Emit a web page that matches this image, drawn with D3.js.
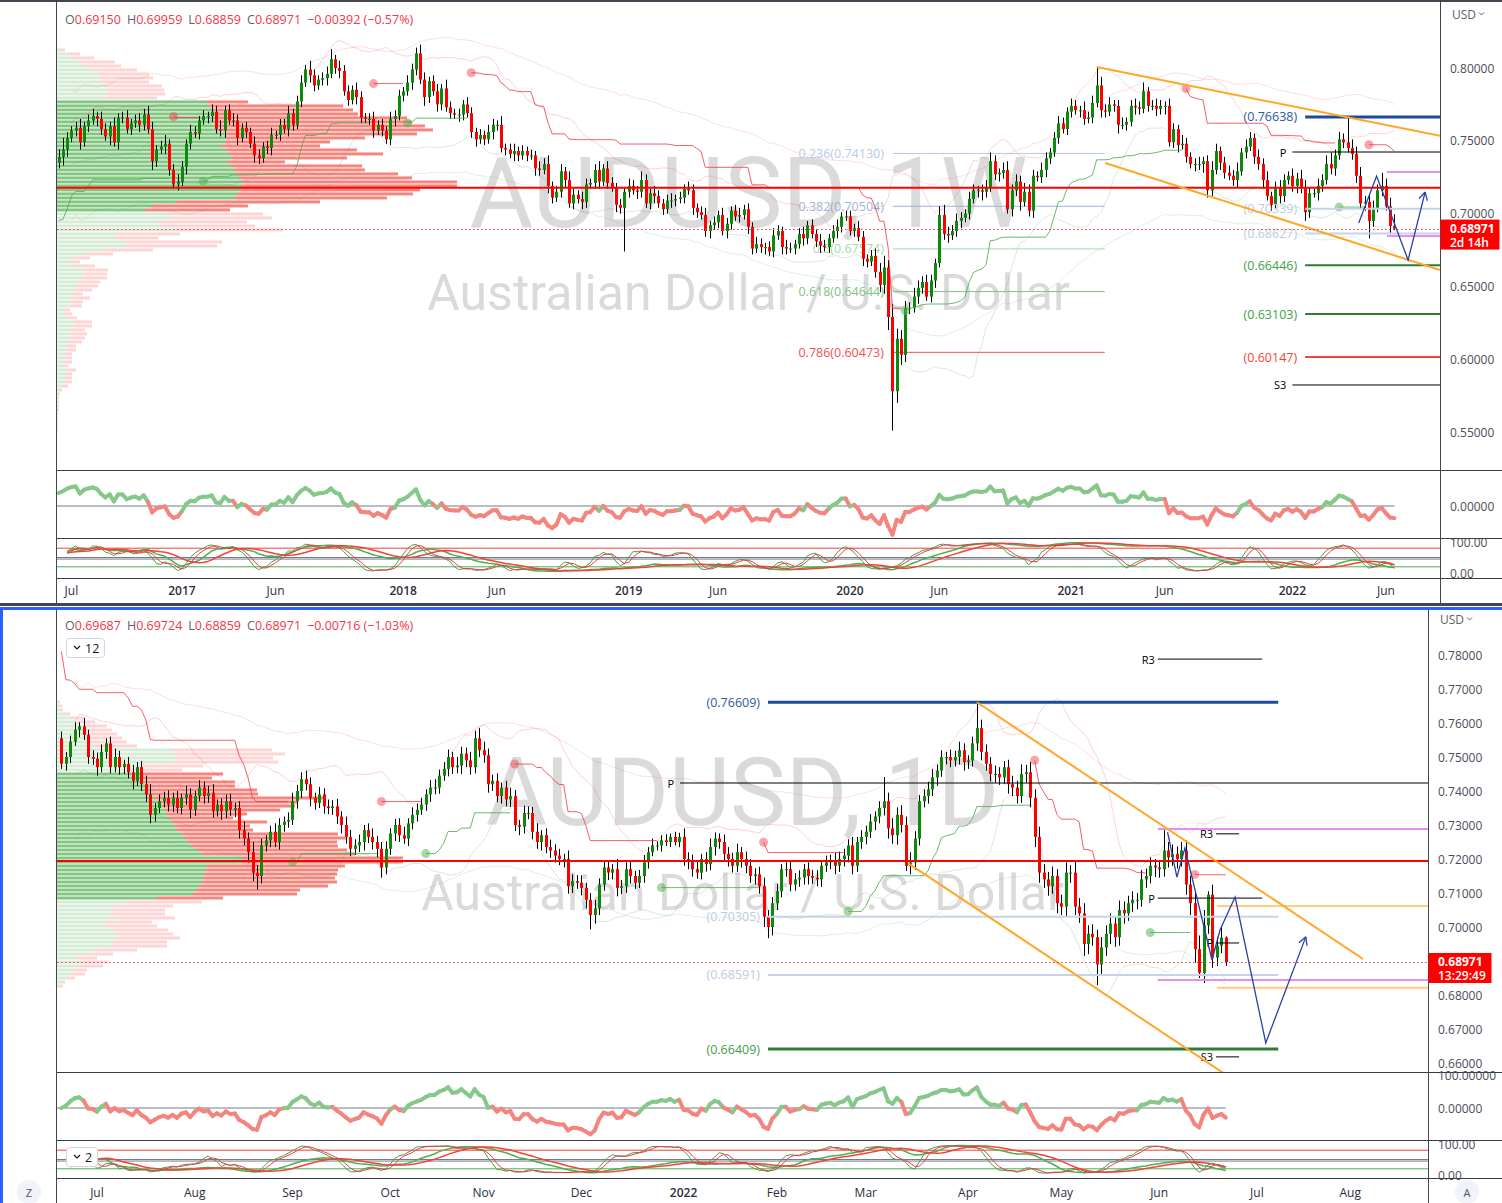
<!DOCTYPE html>
<html><head><meta charset="utf-8"><title>AUDUSD</title>
<script src="https://cdn.jsdelivr.net/npm/d3@7/dist/d3.min.js"></script>
<style>html,body{margin:0;padding:0;background:#fff;overflow:hidden}svg{display:block}</style>
</head><body><svg id="c" width="1502" height="1203"></svg>
<script>
// ================= DATA =================
const weeklyStart = "2016-06-13";
const weeklyFirstOpen = 7350;           // price x 1e-4
const weeklyClose = [
7390,7440,7520,7570,7590,7490,7600,7640,7670,7650,7580,7530,7600,7490,7660,7660,7580,7620,7640,7610,7680,7580,7360,7440,7460,7480,7300,7200,7220,
7320,7480,7560,7550,7640,7670,7670,7700,7580,7570,7710,7640,7640,7520,7590,7560,7480,7400,7380,7460,7450,7540,7540,7610,7580,7690,7610,7770,7900,7990,
7950,7880,7920,7930,7960,8060,8000,7980,7840,7780,7850,7800,7660,7650,7650,7570,7610,7570,7510,7650,7670,7810,
7840,7900,7990,8100,7920,7800,7910,7840,7750,7860,7730,7690,7680,7680,7750,7690,7560,7510,7540,7510,7560,7610,7610,7450,7440,7410,7430,7400,7430,7400,
7400,7310,7300,7340,7190,7110,7150,7290,7230,7070,7130,7100,7080,7200,7210,7300,7220,7310,7210,7180,7060,7040,7150,
7190,7160,7150,7230,7070,7140,7120,7070,7030,7090,7090,7100,7110,7170,7160,7040,7010,6990,6880,6920,6940,6990,6880,6930,7020,6980,6990,7030,6910,6760,
6790,6770,6770,6740,6850,6880,6770,6760,6760,6790,6860,6830,6920,6860,6810,6780,6770,6830,6880,6910,6980,6980,
6880,6900,6840,6690,6670,6710,6600,6510,6630,6290,5780,6140,6030,6350,6350,6430,6490,6530,6430,6540,6660,6990,6860,6850,6880,6950,6970,7000,7100,7160,
7160,7150,7180,7360,7270,7280,7300,7030,7160,7220,7080,7150,7020,7260,7250,7300,7380,7420,7520,7620,7580,7700,
7740,7710,7710,7650,7660,7760,7880,7710,7700,7750,7740,7610,7610,7630,7740,7730,7720,7840,7740,7740,7720,7740,7740,7490,7580,7470,7480,7390,7340,7340,
7340,7360,7160,7300,7430,7350,7280,7260,7230,7290,7420,7460,7520,7390,7340,7230,7120,7060,7180,7120,7230,7260,
7190,7240,7180,7010,7140,7140,7190,7230,7340,7310,7400,7510,7490,7450,7410,7260,7070,7080,6950,7040,7160,7190,7050,6915,6897];
const weeklyWickUp = [   // x 0.001 above body
5,8,4,3,4,6,3,4,5,3,5,4,3,6,3,4,5,3,4,5,4,6,5,3,4,6,3,4,5,
4,3,5,4,3,4,3,5,4,6,3,4,5,4,3,4,3,5,4,3,4,5,3,4,4,5,3,4,5,3,6,4,3,4,5,7,3,5,4,4,3,5,4,3,4,5,3,4,3,5,4,4,
3,5,4,4,6,5,3,4,5,3,6,4,3,4,3,5,4,3,4,3,5,4,3,6,3,4,5,3,4,3,4,3,5,4,6,3,4,5,3,6,4,3,5,4,3,4,6,3,5,4,3,4,3,
5,4,3,6,4,3,5,4,3,4,5,3,4,3,5,4,3,4,5,3,4,3,5,4,3,4,5,3,4,3,5,4,3,4,5,4,3,5,4,3,4,5,3,4,3,5,4,3,4,5,3,4,
4,3,5,4,3,4,5,6,8,5,9,7,6,5,4,6,5,4,5,4,3,6,7,5,4,5,4,3,5,4,3,4,5,6,4,3,5,6,4,5,4,6,5,4,3,5,4,3,4,5,4,3,
5,4,3,6,4,5,13,6,4,5,3,4,5,3,4,5,4,6,3,4,5,4,3,5,4,3,6,4,3,4,5,3,4,6,5,3,4,5,4,6,3,5,4,3,5,4,6,3,4,5,4,3,
5,4,6,5,4,3,5,4,6,8,4,5,4,17,6,5,6,4,5,5,4,9,5,6,8.1];
const weeklyWickDn = [   // x 0.001 below body
4,6,5,3,4,5,3,4,3,5,4,3,6,3,5,4,3,4,3,5,4,3,6,4,3,5,4,3,4,
3,5,4,3,4,3,5,4,3,4,5,3,4,5,3,4,3,5,4,3,4,5,3,4,3,5,4,3,4,3,5,4,3,4,5,3,4,5,3,4,3,5,4,3,4,5,3,4,3,4,5,3,
4,3,5,4,3,6,4,3,5,4,3,4,3,5,4,3,4,5,3,4,3,5,4,3,4,3,5,4,3,4,3,5,4,3,5,4,3,4,5,3,4,3,5,4,3,4,5,3,4,3,5,4,30,
4,3,5,4,3,4,5,3,4,3,5,4,3,4,3,5,4,3,4,5,3,4,3,5,4,3,4,3,5,4,3,4,5,3,4,3,5,4,3,4,3,5,4,3,4,5,3,4,3,5,4,3,
3,4,3,5,4,3,4,5,6,9,27,8,7,5,4,3,5,4,3,4,5,3,4,5,3,4,5,3,4,3,5,6,4,3,4,5,4,3,5,4,6,3,4,5,3,4,5,4,3,4,3,4,
4,3,5,4,3,4,3,5,4,3,4,6,3,4,3,5,4,3,4,3,5,4,6,3,4,5,3,4,3,5,4,6,5,4,3,5,4,3,4,5,3,4,3,5,4,6,3,4,3,5,4,3,
4,5,4,6,4,3,5,4,3,4,5,3,4,3,4,5,4,5,12,4,3,4,3,5,1.1];

const dailyStart = "2021-06-21";
const dailyFirstOpen = 7555;
const dailyClose = [
7480,7500,7545,7580,7590, 7565,7500,7495,7470,7515, 7540,7470,7500,7470,7480, 7455,7430,7470,7420,7390,
7330,7350,7370,7380,7360, 7380,7350,7380,7390,7345, 7385,7410,7385,7395,7340, 7360,7340,7370,7345,7350,
7285,7260,7220,7160,7150, 7240,7255,7280,7250,7300, 7310,7315,7370,7400,7435, 7420,7380,7365,7390,7355,
7350,7355,7325,7300,7265, 7230,7240,7250,7285,7265, 7250,7230,7175,7230,7275, 7300,7270,7260,7305,7330,
7345,7360,7390,7410,7410, 7445,7465,7500,7470,7475, 7510,7490,7470,7555,7520, 7505,7420,7430,7385,7410,
7375,7385,7300,7295,7335, 7335,7280,7250,7270,7235, 7225,7210,7200,7200,7120, 7135,7130,7115,7080,7035,
7055,7125,7175,7160,7170, 7115,7120,7170,7150,7130, 7150,7190,7220,7240,7240, 7255,7250,7265,7250,7265,
7200,7195,7170,7160,7200, 7185,7235,7260,7250,7215, 7200,7180,7220,7200,7180, 7150,7155,7120,7030,7000,
7070,7105,7170,7170,7125, 7140,7145,7170,7150,7145, 7140,7180,7190,7195,7180, 7200,7210,7240,7180,7250,
7265,7280,7310,7325,7350, 7370,7290,7270,7330,7300, 7180,7190,7260,7370,7385, 7405,7440,7460,7500,7500,
7490,7500,7520,7485,7490, 7540,7585,7515,7480,7450, 7450,7440,7470,7420,7410, 7385,7450,7455,7380,7265,
7160,7140,7120,7150,7070, 7060,7160,7160,7060,7040, 6950,6980,6970,6890,6940, 6980,7010,6970,7050,7040,
7070,7080,7080,7140,7150, 7180,7175,7170,7225,7205, 7215,7200,7225,7125,7070, 6935,6865,7005,7095,6910,
6945,6969,6897];
const dailyWickUp = [   // pips above body
20,15,18,22,12,25,15,20,18,22,15,20,25,18,12,20,22,15,18,25,30,15,20,18,22,15,20,12,25,18,
15,22,18,20,25,15,18,20,22,15,20,25,18,30,22,20,15,18,25,20,15,22,25,18,20,25,20,15,22,18,
20,18,22,15,25,20,18,22,15,20,25,18,20,22,15,18,20,25,15,22,18,20,15,22,25,18,20,22,15,25,
20,18,25,22,30,25,20,18,22,15,20,25,18,15,22,20,18,25,15,20,22,18,20,15,25,20,18,22,15,20,
25,18,22,20,15,30,18,20,22,15,18,22,15,20,12,15,18,10,15,12,25,20,18,22,15,20,25,18,15,22,
20,18,25,15,22,20,18,22,25,20,18,22,15,20,25,18,22,15,20,18,22,15,20,18,25,22,20,18,25,15,
20,18,22,15,20,71,25,30,22,28,25,30,22,18,20,22,25,18,20,15,22,18,25,20,15,20,76,25,22,20,
25,20,18,22,25,20,28,22,30,25,30,25,22,28,20,25,30,22,35,25,30,25,28,22,30,25,30,22,28,25,
22,25,20,28,22,25,20,22,60,25,28,22,25,30,25,35,40,45,10,30,25,30,3.4];
const dailyWickDn = [   // pips below body
15,20,18,12,22,15,20,18,25,15,20,18,15,22,20,18,25,15,20,22,25,20,15,18,20,22,15,18,20,25,
18,15,22,20,18,15,25,20,18,22,25,20,30,25,40,22,18,20,15,22,20,18,15,22,20,18,25,20,15,22,
18,20,22,25,20,22,18,20,25,18,22,25,30,20,18,22,20,15,22,18,20,15,18,22,20,18,15,22,20,18,
25,20,22,18,20,22,25,20,18,22,20,22,18,25,20,18,22,20,25,18,22,20,18,25,22,20,18,22,25,42,
25,20,18,22,20,25,18,20,22,18,15,20,18,12,15,18,12,15,10,15,20,25,22,18,20,22,18,25,20,18,
22,20,18,25,22,20,25,22,30,33,25,20,18,22,20,18,22,20,25,18,20,22,18,20,25,18,22,20,25,18,
20,22,18,25,20,22,30,25,28,22,15,25,22,20,18,22,20,25,18,22,20,18,22,25,20,18,22,25,20,22,
25,22,20,28,25,22,20,25,28,30,30,25,28,22,30,25,28,30,25,28,35,30,25,61,28,25,30,28,25,30,
22,25,28,20,25,22,28,25,22,30,25,28,22,30,35,40,15,30,25,30,25,22,11.1];

const headerW = [0.69150, 0.69959, 0.68859, 0.68971, -0.00392, -0.57];
const headerD = [0.69687, 0.69724, 0.68859, 0.68971, -0.00716, -1.03];
const lastPrice = 0.68971;
const countdownW = "2d 14h";
const countdownD = "13:29:49";
const priceTicksW = [0.80, 0.75, 0.70, 0.65, 0.60, 0.55];
const priceTicksD = [0.78, 0.77, 0.76, 0.75, 0.74, 0.73, 0.72, 0.71, 0.70, 0.69, 0.68, 0.67, 0.66];
const timeTicksW = ["2016-07","2017-01","2017-06","2018-01","2018-06","2019-01","2019-06","2020-01","2020-06","2021-01","2021-06","2022-01","2022-06"];
const timeTicksD = ["2021-07","2021-08","2021-09","2021-10","2021-11","2021-12","2022-01","2022-02","2022-03","2022-04","2022-05","2022-06","2022-07","2022-08"];
const chandelierStartDir = [1, -1];   // weekly, daily trend state at first visible bar

// volume profiles (rows from top price downward)
const profTopW = 0.8124, profStepW = 0.002747, profVaW = [13, 40];
const profUpW = [4,10,16,24,28,36,42,44,42,48,50,50,46,
150,152,155,158,160,160,162,165,168,170,168,165,170,172,175,170,175,178,180,182,185,185,183,180,178,120,95,88,
110,115,100,105,120,62,58,70,68,48,28,16,12,19,26,25,25,22,20,18,13,16,13,12,7,8,10,17,17,14,15,14,12,10,10,8,8,8,6,10,8,8,8,6,3,2,1,1,1,1,1,1,1,1,1];
const profDnW = [4,13,21,34,36,44,50,52,50,57,57,58,54,
41,134,141,143,190,195,206,211,192,138,105,98,130,154,115,58,130,130,161,173,215,215,180,176,152,143,96,85,
96,100,90,93,106,61,43,95,92,48,28,17,11,19,25,25,25,21,21,17,13,17,13,13,6,7,10,18,18,14,15,14,13,9,9,7,7,7,5,9,7,7,7,5,2,1,1,1,1,1,0,0,0,0,0];
const profTopD = 0.76618, profStepD = 0.0011765, profVaD = [18, 49];
const profUpD = [2,3,3,7,15,20,26,28,30,32,34,38,115,120,118,118,85,70,
85,85,88,90,92,95,98,100,105,108,110,112,115,118,120,125,128,130,135,140,145,185,185,150,148,148,146,145,142,140,135,100,
72,58,54,54,60,48,50,56,58,62,55,55,40,28,20,26,23,15,14,9,4,3];
const profDnD = [1,2,3,6,13,18,24,27,30,33,36,42,100,108,98,103,61,55,
81,70,90,88,108,106,170,141,133,115,80,64,95,75,76,156,162,150,146,150,153,161,161,138,133,132,132,135,129,103,105,66,
73,58,54,54,58,47,50,55,58,61,55,55,40,28,20,25,23,15,14,9,4,3];
const pocW = 0.7178, pocD = 0.7194;

// drawings, weekly chart (bar index, price)
const fibRatiosW = [0.236, 0.382, 0.5, 0.618, 0.786];
const fibPricesW = [0.74130, 0.70504, 0.67574, 0.64644, 0.60473];
const fibSpanW = [196.1, 245.9];
const levelPricesW = [0.76638, 0.70339, 0.68627, 0.66446, 0.63103, 0.60147];
const levelStartW = 293;
const pivotNamesW = ["P", "S3"];
const pivotPricesW = [0.7423, 0.5823];
const pivotStartW = 290;
const magentaW = [0.7286, 0.6846];
const magentaStartW = 312.2;
const channelUpW = [[244, 0.8007], [324.7, 0.7534]];
const channelDnW = [[246, 0.7348], [324.7, 0.6613]];
const pathW = [[305.6, 0.6935], [309.8, 0.7258], [317.2, 0.6681], [321.2, 0.7148]];

// drawings, daily chart
const levelPricesD = [0.76609, 0.70305, 0.68591, 0.66409];
const levelSpanD = [159, 273.8];
const pivotLongD = 0.74235, pivotLongStartD = 139.2;
const pivotNamesD = ["R3", "P", "R3", "P", "S3"];
const pivotPricesD = [0.7788, 0.7085, 0.7274, 0.6953, 0.6618];
const pivotSpansD = [[246.7, 270.2], [246.7, 270.2], [259.8, 265], [259.8, 265], [259.8, 265]];
const magentaD = [0.7288, 0.6844];
const magentaStartD = 246.7;
const orangeD = [0.7062, 0.6821];
const orangeStartD = 260;
const channelUpD = [[206, 0.7661], [292.9, 0.6906]];
const channelDnD = [[190.5, 0.7188], [266, 0.6531]];
const pathD = [[248.9, 0.7279], [251.0, 0.7147], [252.8, 0.7232], [258.9, 0.6903], [260.7, 0.6991], [264.1, 0.7088], [271.0, 0.6659], [280.0, 0.6971]];
const stochLevels = [80, 50, 45, 20];

// ================= HELPERS =================
const svg = d3.select('#c');
const FONT = '"Open Sans","Noto Sans",sans-serif';
const f5 = d3.format('.5f'), f2 = d3.format('.2f');
const parse = d3.utcParse('%Y-%m-%d');

function mkCandles(cl, fo, up, dn, wu) {
  return cl.map((c, i) => { const o = (i ? cl[i-1] : fo) / 1e4, cc = c / 1e4;
    return {i, o, c: cc, h: Math.max(o, cc) + up[i] * wu, l: Math.min(o, cc) - dn[i] * wu}; });
}
const csW = mkCandles(weeklyClose, weeklyFirstOpen, weeklyWickUp, weeklyWickDn, 0.001);
const csD = mkCandles(dailyClose, dailyFirstOpen, dailyWickUp, dailyWickDn, 0.0001);
const datesW = d3.range(340).map(i => d3.utcDay.offset(parse(weeklyStart), 7 * i));
const datesD = (() => { const out = []; let d = parse(dailyStart);
  while (out.length < 330) { const w = d.getUTCDay(); if (w !== 0 && w !== 6) out.push(d); d = d3.utcDay.offset(d, 1); }
  return out; })();

// expanding-window warm-up so indicators start at the first bar
function win(a, i, n) { return a.slice(Math.max(0, i-n+1), i+1).filter(x => x != null); }
function sma(a, n) { return a.map((v, i) => { const w = win(a, i, n); return w.length ? d3.mean(w) : null; }); }
function sd(a, n) { return a.map((v, i) => { const w = win(a, i, n); if (w.length < 2) return 0; const m = d3.mean(w); return Math.sqrt(d3.mean(w, x => (x-m)*(x-m))); }); }
function ema(a, n) { const k = 2/(n+1); let e = null; return a.map(v => { e = e === null ? v : v*k + e*(1-k); return e; }); }
function rma(a, n) { let r = null; return a.map((v, i) => { const k = Math.min(n, i+1); r = r === null ? v : (r*(k-1) + v)/k; return r; }); }
function rmaSeeded(a, n) { let r = d3.mean(a.slice(1, n+1)); return a.map((v, i) => { if (i > 0) r = (r*(n-1) + v)/n; return r; }); }
function tr(cs) { return cs.map((d, i) => i ? Math.max(d.h-d.l, Math.abs(d.h-cs[i-1].c), Math.abs(d.l-cs[i-1].c)) : d.h-d.l); }
function rsi(a, n) { const g = [], l = []; a.forEach((v, i) => { const ch = i ? v - a[i-1] : 0; g.push(Math.max(ch, 0)); l.push(Math.max(-ch, 0)); });
  const ag = rmaSeeded(g, n), al = rmaSeeded(l, n); return a.map((v, i) => (al[i] === 0 ? 100 : 100 - 100/(1 + ag[i]/al[i]))); }
function stochRaw(cs, n) { return cs.map((d, i) => { const w = cs.slice(Math.max(0, i-n+1), i+1); const hh = d3.max(w, e => e.h), ll = d3.min(w, e => e.l); return 100*(d.c-ll)/((hh-ll) || 1); }); }
function chandelier(cs, n, m, startDir) {
  const atr = rma(tr(cs), n); const base = d3.mean(tr(cs).slice(0, n)); const out = []; let lsP = null, ssP = null, dir = startDir;
  cs.forEach((d, i) => {
    const w = cs.slice(Math.max(0, i-n+1), i+1);
    const a = Math.max(atr[i], base);
    let ls = d3.max(w, e => e.c) - a*m, ss = d3.min(w, e => e.c) + a*m;
    if (lsP !== null && cs[i-1].c > lsP) ls = Math.max(ls, lsP);
    if (ssP !== null && cs[i-1].c < ssP) ss = Math.min(ss, ssP);
    let nd = dir;
    if (ssP !== null && d.c > ssP) nd = 1; else if (lsP !== null && d.c < lsP) nd = -1;
    out.push({i, dir: nd, v: nd === 1 ? ls : ss, flip: lsP !== null && nd !== dir});
    dir = nd; lsP = ls; ssP = ss;
  });
  return out;
}
function hl(g, x1, x2, y, col, w, dash) {
  g.append('line').attr('x1', x1).attr('x2', x2).attr('y1', y).attr('y2', y)
   .attr('stroke', col).attr('stroke-width', w).attr('stroke-dasharray', dash || null);
}
function tx(g, x, y, s, col, o = {}) {
  return g.append('text').attr('x', x).attr('y', y).attr('fill', col)
   .attr('text-anchor', o.a || 'start').attr('dominant-baseline', 'central')
   .style('font-family', o.f || FONT).style('font-size', (o.s || 12) + 'px').style('font-weight', o.w || 400).text(s);
}
function drawPath(g, xs, ys, pts, col) {
  const l = d3.line().x(d => xs(d[0])).y(d => ys(d[1]));
  g.append('path').attr('d', l(pts)).attr('fill', 'none').attr('stroke', col).attr('stroke-width', 1.3);
  const a = pts[pts.length - 2], b = pts[pts.length - 1];
  const ax = xs(a[0]), ay = ys(a[1]), bx = xs(b[0]), by = ys(b[1]);
  const ang = Math.atan2(by - ay, bx - ax), L = 9;
  [0.5, -0.5].forEach(s => g.append('line').attr('x1', bx).attr('y1', by)
    .attr('x2', bx - L * Math.cos(ang + s)).attr('y2', by - L * Math.sin(ang + s)).attr('stroke', col).attr('stroke-width', 1.3));
}

// ================= PANELS =================
const PW = {id:'W', x0:57, x1:1440, top:3, mainBot:470, oscBot:538, stBot:578, axisY:590, frameTop:2, frameBot:603,
  xDom:[-0.376, 324.7], yDom:[0.55, 0.80], yRng:[432, 68], oscRng:[534, 478], stRng:[573, 542], labX:1450,
  wm1:"AUDUSD, 1W", wm1S:98, wm1Y:193, wm2Y:293, headY:19, dirIdx:0};
const PD = {id:'D', x0:57, x1:1428, top:610, mainBot:1072, oscBot:1140, stBot:1178, axisY:1192, frameTop:610, frameBot:1203,
  xDom:[-0.99, 307.5], yDom:[0.66, 0.78], yRng:[1063, 655], oscRng:[1136, 1080], stRng:[1175, 1144], labX:1438,
  wm1:"AUDUSD, 1D", wm1S:94, wm1Y:793, wm2Y:893, headY:625, dirIdx:1};

svg.append('rect').attr('width', 1502).attr('height', 1203).attr('fill', '#fff');

function drawPanel(P, cs, dates, ticks, prof, poc, under, over) {
  const xs = d3.scaleLinear().domain(P.xDom).range([P.x0, P.x1]);
  const ys = d3.scaleLinear().domain(P.yDom).range(P.yRng);
  const clip = 'cl' + P.id;
  svg.append('clipPath').attr('id', clip).append('rect').attr('x', P.x0).attr('y', P.top).attr('width', P.x1 - P.x0).attr('height', P.mainBot - P.top);
  svg.append('clipPath').attr('id', clip + 'o').append('rect').attr('x', P.x0).attr('y', P.mainBot + 1).attr('width', P.x1 - P.x0).attr('height', P.oscBot - P.mainBot - 1);
  svg.append('clipPath').attr('id', clip + 's').append('rect').attr('x', P.x0).attr('y', P.oscBot + 1).attr('width', P.x1 - P.x0).attr('height', P.stBot - P.oscBot - 1);
  const g = svg.append('g').attr('clip-path', `url(#${clip})`);
  const cx = (P.x0 + P.x1) / 2;
  // watermark
  tx(g, cx, P.wm1Y, P.wm1, '#dadada', {a:'middle', s:P.wm1S, f:'Roboto'});
  tx(g, cx, P.wm2Y, 'Australian Dollar / U.S. Dollar', '#dadada', {a:'middle', s:50, f:'Roboto'});
  // volume profile
  const ws = d3.scaleLinear().domain([0, 400]).range([0, 400]);
  prof.up.forEach((u, k) => {
    const y = ys(prof.top - k * prof.step) - 1.5, va = k >= prof.va[0] && k <= prof.va[1];
    g.append('rect').attr('x', P.x0).attr('y', y).attr('width', ws(u)).attr('height', 3).attr('fill', va ? '#82c682' : '#d7ecd7');
    g.append('rect').attr('x', P.x0 + ws(u)).attr('y', y).attr('width', ws(prof.dn[k])).attr('height', 3).attr('fill', va ? '#f7847d' : '#fdd5d5');
  });
  // bands
  const cl = cs.map(d => d.c);
  const m20 = sma(cl, 20), s20 = sd(cl, 20), e50 = ema(cl, 50), a50 = rma(tr(cs), 50);
  const ln = d3.line().defined(d => d[1] != null).x(d => xs(d[0])).y(d => ys(d[1]));
  const band = (arr, col) => g.append('path').attr('d', ln(arr.map((v, i) => [i, v]).slice(3))).attr('fill', 'none').attr('stroke', col).attr('stroke-width', 1);
  band(m20.map((m, i) => m + 2 * s20[i]), 'rgba(242,54,69,0.22)');
  band(m20.map((m, i) => m - 2 * s20[i]), 'rgba(67,160,71,0.22)');
  band(e50.map((m, i) => m + 3 * a50[i]), 'rgba(242,54,69,0.16)');
  band(e50.map((m, i) => m - 3 * a50[i]), 'rgba(67,160,71,0.16)');
  under(g, xs, ys);
  // candles
  g.selectAll(null).data(cs).enter().append('line')
    .attr('x1', d => Math.round(xs(d.i)) + 0.5).attr('x2', d => Math.round(xs(d.i)) + 0.5)
    .attr('y1', d => ys(d.h)).attr('y2', d => ys(d.l)).attr('stroke', '#000').attr('stroke-width', 1);
  g.selectAll(null).data(cs).enter().append('rect')
    .attr('x', d => Math.round(xs(d.i)) - 1).attr('width', 3)
    .attr('y', d => Math.min(ys(d.o), ys(d.c))).attr('height', d => Math.max(1, Math.abs(ys(d.o) - ys(d.c))))
    .attr('fill', d => d.c >= d.o ? '#0c8a0c' : '#ff0000');
  // chandelier exit
  const ch = chandelier(cs, 22, 3, chandelierStartDir[P.dirIdx]);
  let run = [], runDir = null;
  const flush = () => { if (run.length > 1) g.append('path').attr('d', ln(run)).attr('fill', 'none')
      .attr('stroke', runDir === 1 ? 'rgba(76,175,80,0.85)' : 'rgba(242,54,69,0.8)').attr('stroke-width', 1); };
  ch.forEach(c => { if (c.dir !== runDir) { flush(); run = []; runDir = c.dir; } run.push([c.i, c.v]); });
  flush();
  ch.forEach(c => { if (c.flip) g.append('circle').attr('cx', xs(c.i)).attr('cy', ys(c.v)).attr('r', 4.5)
      .attr('fill', c.dir === 1 ? 'rgba(76,175,80,0.5)' : 'rgba(242,54,69,0.45)'); });
  // POC line
  hl(g, P.x0, P.x1, ys(poc), '#ff0000', 2);
  over(g, xs, ys);
  // last price dotted line
  hl(g, P.x0, P.x1, Math.round(ys(lastPrice)) + 0.5, '#f23645', 1, '1.5,2.5');

  // header
  const t = svg.append('text').attr('x', 65).attr('y', P.headY).attr('dominant-baseline', 'central').style('font-family', FONT).style('font-size', '12.5px');
  const hv = P.id === 'W' ? headerW : headerD;
  ['O','H','L','C'].forEach((k, j) => { t.append('tspan').attr('fill', '#5d606b').attr('dx', j ? 6 : 0).text(k); t.append('tspan').attr('fill', '#f23645').text(f5(hv[j])); });
  t.append('tspan').attr('fill', '#f23645').attr('dx', 6).text(f5(hv[4]) + ' (' + f2(hv[5]) + '%)');

  // ---- oscillator pane
  const yo = d3.scaleLinear().domain([-30, 30]).range(P.oscRng);
  const osc = rsi(cl, 14).map(v => v - 50);
  const og = svg.append('g').attr('clip-path', `url(#${clip}o)`);
  hl(og, P.x0, xs(cs.length - 1), yo(0), '#787b86', 1);
  for (let i = 1; i < osc.length; i++) {
    og.append('line').attr('x1', xs(i-1)).attr('y1', yo(osc[i-1])).attr('x2', xs(i)).attr('y2', yo(osc[i]))
      .attr('stroke', osc[i] >= 0 ? '#86c889' : '#f4857e').attr('stroke-width', 4).attr('stroke-linecap', 'round');
  }
  // ---- stochastic pane
  const yst = d3.scaleLinear().domain([0, 100]).range(P.stRng);
  const sg = svg.append('g').attr('clip-path', `url(#${clip}s)`);
  const lvlCol = ['#f44336', '#787b86', '#787b86', '#4caf50'];
  stochLevels.forEach((v, j) => hl(sg, P.x0, P.x1, yst(v), lvlCol[j], 1));
  const kF = sma(stochRaw(cs, 14), 3), dF = sma(kF, 3);
  const kS = sma(stochRaw(cs, 60), 8), dS = sma(kS, 8);
  const sl = d3.line().defined(d => d[1] != null).x(d => xs(d[0])).y(d => yst(d[1]));
  [[kS, '#4caf50', 1.5], [dS, '#f44336', 1.5], [kF, '#43a047', 1], [dF, '#f23645', 1]].forEach(([a, c, w]) =>
    sg.append('path').attr('d', sl(a.map((v, i) => [i, v]).slice(2))).attr('fill', 'none').attr('stroke', c).attr('stroke-width', w));

  // ---- frames
  const fr = svg.append('g');
  fr.append('rect').attr('x', P.x0).attr('y', P.stBot).attr('width', 1502 - P.x0).attr('height', P.frameBot - P.stBot).attr('fill', '#fff');
  [P.mainBot, P.oscBot, P.stBot].forEach(y => hl(fr, P.x0, 1502, y + 0.5, '#363a45', 1));
  fr.append('line').attr('x1', 56.5).attr('x2', 56.5).attr('y1', P.frameTop).attr('y2', P.frameBot).attr('stroke', '#434651');
  fr.append('line').attr('x1', P.x1 + 0.5).attr('x2', P.x1 + 0.5).attr('y1', P.frameTop).attr('y2', P.frameBot).attr('stroke', '#434651');
  // price axis labels
  const pt = P.id === 'W' ? priceTicksW : priceTicksD;
  pt.forEach(p => tx(fr, P.labX, ys(p), f5(p), '#4a4d57'));
  tx(fr, P.labX + 2, P.id === 'W' ? 14 : 619, 'USD', '#5d606b');
  fr.append('path').attr('d', `M${P.labX + 29},${(P.id === 'W' ? 14 : 619) - 1.5} l2.5,2.5 l2.5,-2.5`).attr('fill', 'none').attr('stroke', '#5d606b').attr('stroke-width', 1);
  tx(fr, P.labX, yo(0), '0.00000', '#4a4d57');
  if (P.id === 'D') tx(fr, P.labX, P.mainBot + 3, '100.00000', '#4a4d57');
  tx(fr, P.labX, yst(100), '100.00', '#4a4d57');
  tx(fr, P.labX, yst(0), '0.00', '#4a4d57');
  // last price tag
  const ly = ys(lastPrice);
  fr.append('rect').attr('x', P.x1 + 0.5).attr('y', ly - 9).attr('width', P.id === 'W' ? 59 : 63).attr('height', 30).attr('fill', '#ff0000');
  tx(fr, P.labX, ly, f5(lastPrice), '#fff', {w:700});
  tx(fr, P.labX, ly + 14, P.id === 'W' ? countdownW : countdownD, '#fff', {w:600});
  // time axis
  ticks.forEach(m => {
    const t0 = parse(m + '-01'); const idx = dates.findIndex(d => d >= t0);
    const lab = t0.getUTCMonth() === 0 ? String(t0.getUTCFullYear()) : d3.utcFormat('%b')(t0);
    tx(fr, xs(idx), P.axisY, lab, '#2a2e39', {a:'middle', w: t0.getUTCMonth() === 0 ? 600 : 400});
  });
  return {xs, ys};
}

// ----- weekly panel
drawPanel(PW, csW, datesW, timeTicksW,
  {up: profUpW, dn: profDnW, va: profVaW, top: profTopW, step: profStepW}, pocW,
  (g, xs, ys) => {
    const fc = ['#b8cae6', '#9fb2d4', '#a9d7ab', '#7fc282', '#f0524f'];
    fibPricesW.forEach((p, j) => { hl(g, xs(fibSpanW[0]), xs(fibSpanW[1]), ys(p), fc[j], 1);
      tx(g, xs(fibSpanW[0]) - 9, ys(p), `${fibRatiosW[j]}(${f5(p)})`, fc[j], {a:'end', s:12.5}); });
  },
  (g, xs, ys) => {
    const lc = ['#1c4a9c', '#c5d3ea', '#c5d3ea', '#2e7d32', '#2e7d32', '#f44336'];
    const tc = ['#2c5aa0', '#bccbe4', '#bccbe4', '#43a047', '#43a047', '#f44336'];
    const lw = [3, 2, 2, 2, 2, 2];
    levelPricesW.forEach((p, j) => { hl(g, xs(levelStartW), PW.x1, ys(p), lc[j], lw[j]);
      tx(g, xs(levelStartW) - 8, ys(p), `(${f5(p)})`, tc[j], {a:'end', s:12.5}); });
    pivotPricesW.forEach((p, j) => { hl(g, xs(pivotStartW), PW.x1, ys(p), '#000', 1);
      tx(g, xs(pivotStartW) - 6, ys(p), pivotNamesW[j], '#000', {a:'end', s:11}); });
    magentaW.forEach(p => hl(g, xs(magentaStartW), PW.x1, ys(p), '#e88ef2', 2));
    [channelUpW, channelDnW].forEach(c => g.append('line').attr('x1', xs(c[0][0])).attr('y1', ys(c[0][1])).attr('x2', xs(c[1][0])).attr('y2', ys(c[1][1])).attr('stroke', '#ffa726').attr('stroke-width', 2));
    drawPath(g, xs, ys, pathW, '#2840a8');
  });

// ----- daily panel
drawPanel(PD, csD, datesD, timeTicksD,
  {up: profUpD, dn: profDnD, va: profVaD, top: profTopD, step: profStepD}, pocD,
  (g, xs, ys) => {},
  (g, xs, ys) => {
    const lc = ['#1c4a9c', '#c5d3ea', '#c5d3ea', '#2e7d32'];
    const tc = ['#2c5aa0', '#bccbe4', '#bccbe4', '#43a047'];
    const lw = [3, 2, 2, 3];
    levelPricesD.forEach((p, j) => { hl(g, xs(levelSpanD[0]), xs(levelSpanD[1]), ys(p), lc[j], lw[j]);
      tx(g, xs(levelSpanD[0]) - 8, ys(p), `(${f5(p)})`, tc[j], {a:'end', s:12.5}); });
    hl(g, xs(pivotLongStartD), PD.x1, ys(pivotLongD), '#000', 1);
    tx(g, xs(pivotLongStartD) - 6, ys(pivotLongD), 'P', '#000', {a:'end', s:11});
    pivotPricesD.forEach((p, j) => { hl(g, xs(pivotSpansD[j][0]), xs(pivotSpansD[j][1]), ys(p), '#000', 1);
      tx(g, xs(pivotSpansD[j][0]) - 3, ys(p), pivotNamesD[j], '#000', {a:'end', s:11}); });
    magentaD.forEach(p => hl(g, xs(magentaStartD), PD.x1, ys(p), '#e88ef2', 2));
    orangeD.forEach(p => hl(g, xs(orangeStartD), PD.x1, ys(p), '#ffcc80', 2));
    [channelUpD, channelDnD].forEach(c => g.append('line').attr('x1', xs(c[0][0])).attr('y1', ys(c[0][1])).attr('x2', xs(c[1][0])).attr('y2', ys(c[1][1])).attr('stroke', '#ffa726').attr('stroke-width', 2));
    drawPath(g, xs, ys, pathD, '#2840a8');
  });

// ----- layout chrome
const ch2 = svg.append('g');
ch2.append('rect').attr('x', 0).attr('y', 0).attr('width', 1502).attr('height', 2).attr('fill', '#434651');
ch2.append('rect').attr('x', 0).attr('y', 603).attr('width', 1502).attr('height', 3).attr('fill', '#434651');
ch2.append('rect').attr('x', 0).attr('y', 607).attr('width', 1502).attr('height', 3).attr('fill', '#2962ff');
ch2.append('rect').attr('x', 0).attr('y', 607).attr('width', 3).attr('height', 596).attr('fill', '#2962ff');
function btn(x, y, w, label) {
  ch2.append('rect').attr('x', x + 0.5).attr('y', y + 0.5).attr('width', w).attr('height', 19).attr('rx', 3).attr('fill', '#fff').attr('stroke', '#d1d4dc');
  ch2.append('path').attr('d', `M${x + 8},${y + 8} l3,3 l3,-3`).attr('fill', 'none').attr('stroke', '#131722').attr('stroke-width', 1.2);
  tx(ch2, x + 19, y + 10, label, '#131722', {s:12.5});
}
btn(66, 638, 38, '12');
btn(66, 1147, 31, '2');
[[29, 'Z'], [1467, 'A']].forEach(([x, s]) => {
  ch2.append('circle').attr('cx', x).attr('cy', 1192).attr('r', 12).attr('fill', '#f0f3fa');
  tx(ch2, x, 1192, s, '#50535e', {a:'middle', s:11});
});
</script></body></html>
